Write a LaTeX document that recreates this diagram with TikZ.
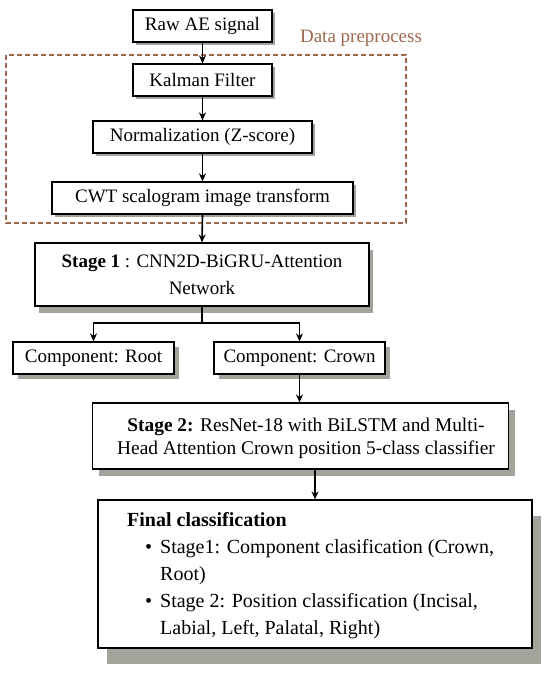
\documentclass[tikz,border=0pt]{standalone}
\usepackage{fontspec}
\setmainfont{Liberation Serif}
\usetikzlibrary{arrows.meta,shadows}
\definecolor{shadowc}{RGB}{163,163,156}
\definecolor{brownc}{RGB}{158,104,78}
\begin{document}
\begin{tikzpicture}[x=1pt,y=-1pt,
  every node/.style={inner sep=0pt},
  boxx/.style={draw=black,line width=1.2pt,fill=white,align=center,
    font=\fontsize{19}{27}\selectfont},
  sh/.style={drop shadow={shadow xshift=#1pt,shadow yshift=-#1pt,fill=shadowc,opacity=1}},
  conn/.style={line width=1.6pt,-{Stealth[length=8pt,width=7pt]}},
  plain/.style={line width=1.6pt}]
\useasboundingbox (0,0) rectangle (550,674);
% dashed preprocess frame
\draw[brownc,line width=1.3pt,dash pattern=on 5pt off 3pt] (6,55) rectangle (406,223);
\node[text=brownc,font=\fontsize{19}{23}\selectfont] (lbl) at (361,38) {Data preprocess};
% boxes
\node[boxx,sh=3,minimum width=139pt,minimum height=32pt] (raw) at (202.5,26) {Raw AE signal};
\node[boxx,sh=3,minimum width=139pt,minimum height=32pt] (kal) at (202.5,80) {Kalman Filter};
\node[boxx,sh=3,minimum width=219pt,minimum height=32pt] (nor) at (202.5,137) {Normalization (Z-score)};
\node[boxx,sh=3,minimum width=301pt,minimum height=32pt] (cwt) at (202.5,198) {CWT scalogram image transform};
\node[boxx,drop shadow={shadow xshift=4pt,shadow yshift=-7pt,fill=shadowc,opacity=1},
  minimum width=334pt,minimum height=63pt] (st1) at (202,274.5)
  {\textbf{Stage 1} : CNN2D-BiGRU-Attention\\Network};
\node[boxx,sh=5,minimum width=161pt,minimum height=32pt] (root) at (93.5,358) {Component: Root};
\node[boxx,sh=5,minimum width=171pt,minimum height=32pt] (crown) at (299.5,358) {Component: Crown};
\node[draw=black,line width=1.2pt,fill=white,
  drop shadow={shadow xshift=6pt,shadow yshift=-7pt,fill=shadowc,opacity=1},
  minimum width=416pt,minimum height=66pt] (st2) at (300.5,436) {};
\node[align=center,font=\fontsize{19.4}{23}\selectfont] (st2t) at (306,438)
  {\textbf{Stage 2:} ResNet-18 with BiLSTM and Multi-\\Head Attention Crown position 5-class classifier};
\node[draw=black,line width=1.2pt,fill=white,
  drop shadow={shadow xshift=9pt,shadow yshift=-16pt,fill=shadowc,opacity=1},
  minimum width=434pt,minimum height=148pt] (fin) at (315,574) {};
\node[anchor=north west,font=\fontsize{20}{27}\selectfont] (fint) at (127,507)
  {\begin{tabular}{@{\hspace{18pt}}l@{\hspace{8pt}}l@{}}
   \multicolumn{2}{@{}l}{\textbf{Final classification}}\\
   \textbullet & Stage1: Component clasification (Crown,\\
   & Root)\\
   \textbullet & Stage 2: Position classification (Incisal,\\
   & Labial, Left, Palatal, Right)
   \end{tabular}};
% connectors
\draw[conn] (raw.south) -- (kal.north);
\draw[conn] (kal.south) -- (nor.north);
\draw[conn] (nor.south) -- (cwt.north);
\draw[conn] (cwt.south) -- (st1.north);
\coordinate (br) at (202,323);
\coordinate (brl) at (93.5,323);
\coordinate (brr) at (299.5,323);
\draw[plain] (st1.south) -- (br);
\draw[plain] ([xshift=-0.8pt]brl) -- ([xshift=0.8pt]brr);
\draw[conn] (brl) -- (root.north);
\draw[conn] (brr) -- (crown.north);
\draw[conn] (crown.south) -- (crown.south |- st2.north);
\draw[conn] (st2.south -| fin.north) -- (fin.north);
\end{tikzpicture}
\end{document}
